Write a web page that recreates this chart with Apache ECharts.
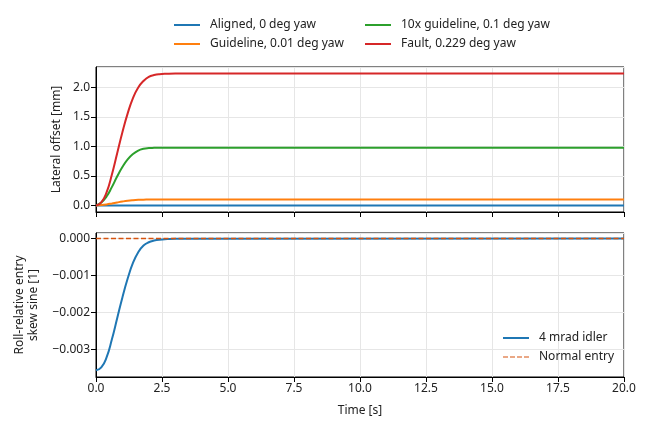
<!DOCTYPE html>
<html>
<head>
<meta charset="utf-8">
<script src="https://cdn.jsdelivr.net/npm/echarts@6/dist/echarts.min.js"></script>
<style>
  html, body { margin: 0; padding: 0; background: #fff; }
  #chart { width: 650px; height: 433px; }
</style>
</head>
<body>
<div id="chart"></div>
<script>
// time samples [s]
var times = [0, 0.2, 0.4, 0.6, 0.8, 1.0, 1.2, 1.4, 1.6, 1.8, 2.0, 2.2, 2.4, 2.7, 3.0, 20];
// lateral offset [mm]
var aligned   = [0, 0, 0, 0, 0, 0, 0, 0, 0, 0, 0, 0, 0, 0, 0, 0];
var guideline = [0, 0.006, 0.017, 0.033, 0.050, 0.066, 0.079, 0.088, 0.094, 0.097, 0.099, 0.1, 0.1, 0.1, 0.1, 0.1];
var guide10x  = [0, 0.05, 0.15, 0.31, 0.49, 0.65, 0.78, 0.87, 0.93, 0.96, 0.972, 0.976, 0.978, 0.978, 0.978, 0.978];
var fault     = [0, 0.05, 0.22, 0.52, 0.88, 1.24, 1.56, 1.82, 2.00, 2.11, 2.18, 2.21, 2.225, 2.232, 2.235, 2.235];
// roll-relative entry skew sine [1]
var idler  = [-0.00356, -0.00348, -0.00321, -0.00273, -0.00216, -0.00159, -0.00108, -0.00066, -0.00037, -0.00019, -0.00010, -0.000055, -0.00003, -0.000015, -0.000008, 0];
var normalT = [0, 20];
var normal  = [0, 0];

var topNames = ['Aligned, 0 deg yaw', 'Guideline, 0.01 deg yaw', '10x guideline, 0.1 deg yaw', 'Fault, 0.229 deg yaw'];

function pairs(xs, ys) {
    var out = [];
    for (var i = 0; i < xs.length; i++) out.push([xs[i], ys[i]]);
    return out;
}

var FONT = 'Noto Sans';
var txt = '#222';
var dashIcon = 'path://M0,0h5v1h-5zM7,0h5v1h-5zM14,0h5v1h-5zM21,0h5v1h-5z';

var chart = echarts.init(document.getElementById('chart'));

function xAxisCfg(idx, labels) {
    return {
        type: 'value', gridIndex: idx, min: 0, max: 20, interval: 2.5,
        axisLine: { show: true, onZero: false, lineStyle: { color: '#000', width: 1 } },
        axisTick: { show: true, length: 5, inside: false, lineStyle: { color: '#000' } },
        axisLabel: {
            show: labels, color: txt, fontFamily: FONT, fontSize: 12, margin: 6,
            formatter: function (v) { return v.toFixed(1); }
        },
        splitLine: { show: true, lineStyle: { color: '#e6e6e6', width: 1 } },
        name: labels ? 'Time [s]' : '', nameLocation: 'middle', nameGap: 28,
        nameTextStyle: { color: txt, fontFamily: FONT, fontSize: 12 }
    };
}

function legendCfg(items, left, top) {
    return {
        data: items, orient: 'vertical', left: left, top: top, padding: 0,
        itemWidth: 26, itemHeight: 2, itemGap: 5,
        textStyle: { color: txt, fontFamily: FONT, fontSize: 12, lineHeight: 14, padding: [0, 0, 0, 5] }
    };
}

var option = {
    animation: false,
    textStyle: { fontFamily: FONT },
    grid: [
        { left: 96, right: 26, top: 67, height: 145, show: true, borderColor: '#000', borderWidth: 1 },
        { left: 96, right: 26, top: 233, height: 144, show: true, borderColor: '#000', borderWidth: 1 }
    ],
    legend: [
        legendCfg([{ name: topNames[0], icon: 'rect' }, { name: topNames[1], icon: 'rect' }], 174, 18),
        legendCfg([{ name: topNames[2], icon: 'rect' }, { name: topNames[3], icon: 'rect' }], 365, 18),
        legendCfg([{ name: '4 mrad idler', icon: 'rect' }, { name: 'Normal entry', icon: dashIcon }], 503, 331)
    ],
    xAxis: [xAxisCfg(0, false), xAxisCfg(1, true)],
    yAxis: [
        {
            type: 'value', gridIndex: 0, min: -0.112, max: 2.347, splitNumber: 5,
            axisLine: { show: true, onZero: false, lineStyle: { color: '#000', width: 1 } },
            axisTick: { show: true, length: 5, lineStyle: { color: '#000' } },
            axisLabel: {
                color: txt, fontFamily: FONT, fontSize: 12, margin: 6,
                showMinLabel: false, showMaxLabel: false,
                formatter: function (v) { return v.toFixed(1); }
            },
            splitLine: { show: true, lineStyle: { color: '#e6e6e6', width: 1 } },
            name: 'Lateral offset [mm]', nameLocation: 'middle', nameGap: 32, nameRotate: 90,
            nameTextStyle: { color: txt, fontFamily: FONT, fontSize: 12 }
        },
        {
            type: 'value', gridIndex: 1, min: -0.00374, max: 0.00015, splitNumber: 4,
            axisLine: { show: true, onZero: false, lineStyle: { color: '#000', width: 1 } },
            axisTick: { show: true, length: 5, lineStyle: { color: '#000' } },
            axisLabel: {
                color: txt, fontFamily: FONT, fontSize: 12, margin: 6,
                showMinLabel: false, showMaxLabel: false,
                formatter: function (v) { return v.toFixed(3).replace('-', '\u2212'); }
            },
            splitLine: { show: true, lineStyle: { color: '#e6e6e6', width: 1 } },
            name: 'Roll-relative entry\nskew sine [1]', nameLocation: 'middle', nameGap: 55, nameRotate: 90,
            nameTextStyle: { color: txt, fontFamily: FONT, fontSize: 12, lineHeight: 14 }
        }
    ],
    series: [
        { name: topNames[0], type: 'line', xAxisIndex: 0, yAxisIndex: 0, data: pairs(times, aligned),
          showSymbol: false, symbol: 'none', smooth: 0.5, color: '#1f77b4', lineStyle: { width: 2 } },
        { name: topNames[1], type: 'line', xAxisIndex: 0, yAxisIndex: 0, data: pairs(times, guideline),
          showSymbol: false, symbol: 'none', smooth: 0.5, color: '#ff7f0e', lineStyle: { width: 2 } },
        { name: topNames[2], type: 'line', xAxisIndex: 0, yAxisIndex: 0, data: pairs(times, guide10x),
          showSymbol: false, symbol: 'none', smooth: 0.5, color: '#2ca02c', lineStyle: { width: 2 } },
        { name: topNames[3], type: 'line', xAxisIndex: 0, yAxisIndex: 0, data: pairs(times, fault),
          showSymbol: false, symbol: 'none', smooth: 0.5, color: '#d62728', lineStyle: { width: 2 } },
        { name: '4 mrad idler', type: 'line', xAxisIndex: 1, yAxisIndex: 1, data: pairs(times, idler),
          showSymbol: false, symbol: 'none', smooth: 0.5, color: '#1f77b4', lineStyle: { width: 2 } },
        { name: 'Normal entry', type: 'line', xAxisIndex: 1, yAxisIndex: 1, data: pairs(normalT, normal),
          showSymbol: false, symbol: 'none', z: 5, color: '#d6530f', lineStyle: { width: 1.5, type: [5, 2.5] } }
    ]
};
chart.setOption(option);
</script>
</body>
</html>
